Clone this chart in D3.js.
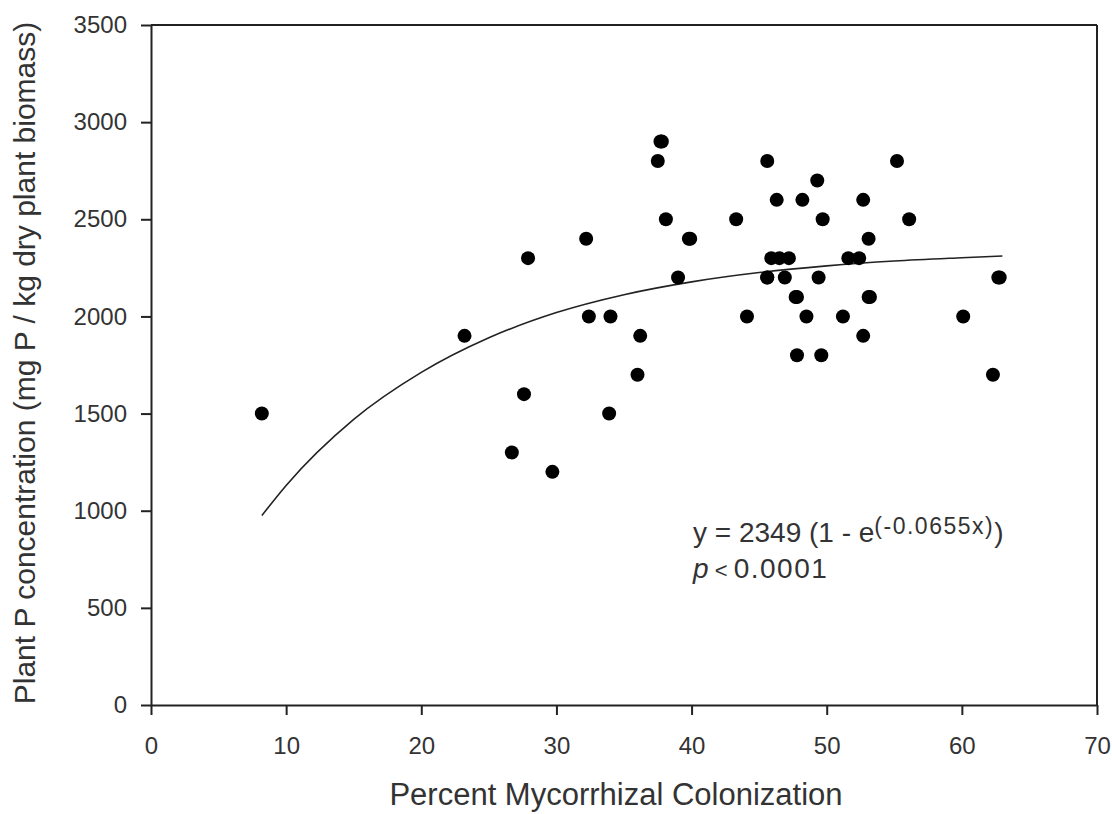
<!DOCTYPE html>
<html>
<head>
<meta charset="utf-8">
<script src="https://cdn.jsdelivr.net/npm/d3@7"></script>
<style>
  html, body { margin: 0; padding: 0; background: #fff; }
  svg { display: block; font-family: "Liberation Sans", Arial, sans-serif; }
</style>
</head>
<body>
<svg id="chart" width="1112" height="814"></svg>
<script>
// colonization (%) and plant P (mg P / kg)
const colonization = [
  8.2, 23.2, 26.7, 27.6, 27.9, 29.7, 32.2, 32.4, 34.0, 33.9,
  36.0, 36.2, 37.5, 37.7, 37.8, 38.1, 39.0, 39.8, 39.9,
  43.3, 44.1, 45.6, 45.6, 45.6, 45.9, 46.3, 46.5, 46.9, 47.2,
  47.7, 47.8, 47.8, 48.2, 48.5, 49.3, 49.4, 49.6, 49.7,
  51.2, 51.6, 52.4, 52.7, 52.7, 53.1, 53.1, 53.2,
  55.2, 56.1, 60.1, 62.3, 62.7, 62.8
];
const plantP = [
  1500, 1900, 1300, 1600, 2300, 1200, 2400, 2000, 2000, 1500,
  1700, 1900, 2800, 2900, 2900, 2500, 2200, 2400, 2400,
  2500, 2000, 2800, 2200, 2200, 2300, 2600, 2300, 2200, 2300,
  2100, 2100, 1800, 2600, 2000, 2700, 2200, 1800, 2500,
  2000, 2300, 2300, 2600, 1900, 2400, 2100, 2100,
  2800, 2500, 2000, 1700, 2200, 2200
];

// fitted curve
const fitX = [8.2, 10, 15, 20, 25, 30, 35, 40, 45, 50, 55, 60, 63];
const fitY = [975, 1130, 1470, 1712, 1890, 2020, 2112, 2178, 2226, 2260, 2285, 2302, 2311];

const xTicks = [0, 10, 20, 30, 40, 50, 60, 70];
const yTicks = [0, 500, 1000, 1500, 2000, 2500, 3000, 3500];

const d3 = window.d3;
const svg = d3.select("#chart");
const W = 1112, H = 814;
const margin = { top: 25, right: 15, bottom: 109, left: 151 };
const ink = "#222";
const textCol = "#333";

const x = d3.scaleLinear().domain([0, 70]).range([margin.left, W - margin.right]);
const y = d3.scaleLinear().domain([0, 3500]).range([H - margin.bottom, margin.top]);

// axes
const gx = svg.append("g")
  .attr("transform", `translate(0,${y(0)})`)
  .call(d3.axisBottom(x).tickValues(xTicks).tickFormat(d3.format("d"))
    .tickSize(10).tickSizeOuter(0).tickPadding(22));
const gy = svg.append("g")
  .attr("transform", `translate(${x(0)},0)`)
  .call(d3.axisLeft(y).tickValues(yTicks).tickFormat(d3.format("d"))
    .tickSize(10).tickSizeOuter(0).tickPadding(14));

[gx, gy].forEach(g => {
  g.selectAll(".domain").attr("stroke", ink).attr("stroke-width", 2);
  g.selectAll(".tick line").attr("stroke", ink).attr("stroke-width", 2);
  g.selectAll(".tick text")
    .attr("fill", textCol)
    .style("font-size", "24px")
    .style("font-family", "'Liberation Sans', Arial, sans-serif");
});

// frame: top and right
svg.append("line")
  .attr("x1", x(0)).attr("x2", x(70))
  .attr("y1", y(3500)).attr("y2", y(3500))
  .attr("stroke", ink).attr("stroke-width", 2);
svg.append("line")
  .attr("x1", x(70)).attr("x2", x(70))
  .attr("y1", y(3500)).attr("y2", y(0))
  .attr("stroke", ink).attr("stroke-width", 2);

// fit line
const fit = fitX.map((v, i) => ({ x: v, y: fitY[i] }));
svg.append("path")
  .datum(fit)
  .attr("fill", "none")
  .attr("stroke", ink)
  .attr("stroke-width", 1.6)
  .attr("d", d3.line().x(d => x(d.x)).y(d => y(d.y)).curve(d3.curveMonotoneX));

// points
const pts = colonization.map((v, i) => ({ x: v, y: plantP[i] }));
svg.append("g").selectAll("circle")
  .data(pts)
  .enter()
  .append("circle")
  .attr("cx", d => x(d.x))
  .attr("cy", d => y(d.y))
  .attr("r", 7)
  .attr("fill", "#000");

// axis titles
svg.append("text")
  .attr("x", 616)
  .attr("y", 805)
  .attr("text-anchor", "middle")
  .attr("fill", textCol)
  .style("font-size", "31px")
  .text("Percent Mycorrhizal Colonization");

svg.append("text")
  .attr("transform", "rotate(-90)")
  .attr("x", -363)
  .attr("y", 35)
  .attr("text-anchor", "middle")
  .attr("fill", textCol)
  .style("font-size", "30px")
  .text("Plant P concentration (mg P / kg dry plant biomass)");

// equation annotation
const eq = svg.append("text")
  .attr("x", 693).attr("y", 542)
  .attr("fill", textCol)
  .style("font-size", "28px");
eq.append("tspan").text("y = 2349 (1 - e");
eq.append("tspan").attr("dy", -8).style("font-size", "23px")
  .style("letter-spacing", "1.5px").text("(-0.0655x)");
eq.append("tspan").attr("dy", 8).text(")");

const pv = svg.append("text")
  .attr("x", 693).attr("y", 578)
  .attr("fill", textCol)
  .style("font-size", "28px");
pv.append("tspan").style("font-style", "italic").text("p");
pv.append("tspan").style("font-size", "22px").text(" < ");
pv.append("tspan").style("letter-spacing", "1.5px").text("0.0001");
</script>
</body>
</html>
